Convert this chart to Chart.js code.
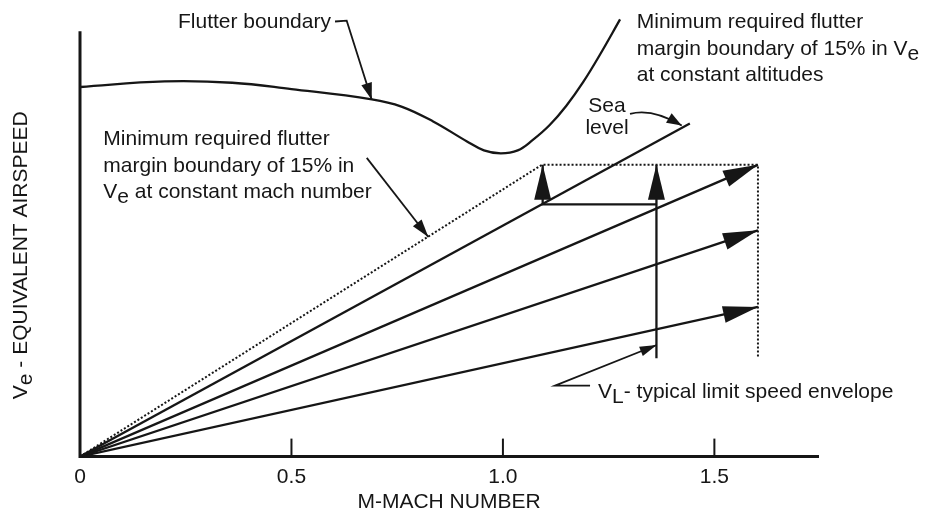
<!DOCTYPE html>
<html>
<head>
<meta charset="utf-8">
<script src="https://cdn.jsdelivr.net/npm/chart.js@4.4.0/dist/chart.umd.min.js"></script>
<style>
  html, body { margin: 0; padding: 0; background: #fff; }
  #wrap { width: 926px; height: 514px; }
</style>
</head>
<body>
<div id="wrap"><canvas id="chart"></canvas></div>
<script>
// Data (Mach number on x, equivalent airspeed in arbitrary units on y)

const xTickValues = [0, 0.5, 1.0, 1.5];
const xTickLabels = ["0", "0.5", "1.0", "1.5"];

const flutterMach = [0, 0.2, 0.36, 0.5, 0.69, 0.76, 0.835, 0.915, 0.955, 0.995, 1.035, 1.07, 1.11, 1.15, 1.19, 1.23, 1.277];
const flutterVe = [86.9, 88.2, 87.9, 86.4, 84.0, 82.3, 78.8, 74.1, 72.0, 71.3, 72.0, 74.4, 77.9, 82.5, 88.1, 94.6, 102.8];

const marginMach = [0, 1.092, 1.603, 1.603];
const marginVe = [0, 68.6, 68.6, 23.1];

const seaLevelMach = [0, 1.442];
const seaLevelVe = [0, 78.3];

const altitudeEndMach = [1.603, 1.603, 1.603];
const altitudeEndVe = [68.6, 53.2, 35.2];

const limitMach = [1.363, 1.363];
const limitVe = [23.1, 68.6];

const stepMach = [1.363, 1.094, 1.094];
const stepVe = [59.3, 59.3, 68.6];

// Styles

const ink = "#161616";
const fontFamily = "'Liberation Sans', Arial, sans-serif";
const noteFont = "21px " + fontFamily;
const yAxisTop = 100;

Chart.defaults.font.family = fontFamily;
Chart.defaults.color = ink;

// Annotations, placed in chart units

const notes = [
    { mach: 0.2317, ve: 100.8, lines: ["Flutter boundary"] },
    { mach: 0.0551, ve: 73.2, lead: 26.4, lines: ["Minimum required flutter", "margin boundary of 15% in", "V_{e} at constant mach number"] },
    { mach: 1.3164, ve: 100.7, lead: 26.6, lines: ["Minimum required flutter", "margin boundary of 15% in V_{e}", "at constant altitudes"] },
    { mach: 1.2462, ve: 81.0, lead: 22, align: "center", lines: ["Sea", "level"] },
    { mach: 1.2249, ve: 13.8, lines: ["V_{L}- typical limit speed envelope"] },
];

const leaders = [
    { path: [[0.603, 102.3], [0.6306, 102.5], [0.6898, 83.9]], head: [17, 5.5] },
    { path: [[0.678, 70.24], [0.8236, 51.62]], head: [18, 5.5] },
    { path: [[1.3005, 80.56], [1.3526, 81.96], [1.4228, 77.84]], curve: true, head: [15, 5.5] },
    { path: [[1.206, 16.69], [1.1232, 16.69], [1.3637, 26.24]], head: [17, 5] },
];

// Functions

function toPoints(xs, ys) {
    return xs.map((x, i) => ({ x: x, y: ys[i] }));
}

function lineSet(xs, ys, extra) {
    return Object.assign({
        data: toPoints(xs, ys),
        borderColor: ink,
        borderWidth: 2.3,
        pointRadius: 0,
        fill: false,
        tension: 0,
    }, extra);
}

function arrowHead(ctx, x0, y0, x1, y1, len, half) {
    const a = Math.atan2(y1 - y0, x1 - x0),
        c = Math.cos(a),
        s = Math.sin(a);

    ctx.beginPath();
    ctx.moveTo(x1, y1);
    ctx.lineTo(x1 - len * c + half * s, y1 - len * s - half * c);
    ctx.lineTo(x1 - len * c - half * s, y1 - len * s + half * c);
    ctx.closePath();
    ctx.fill();
}

// "V_{e}" -> runs with a dropped subscript
function splitRuns(text) {
    return text.split(/_\{(.*?)\}/).map((t, i) => ({ text: t, sub: i % 2 === 1 }));
}

function runsWidth(ctx, runs) {
    return runs.reduce((w, r) => w + ctx.measureText(r.text).width, 0);
}

function drawRuns(ctx, text, x, y) {
    let cx = x;
    splitRuns(text).forEach(r => {
        ctx.fillText(r.text, cx, y + (r.sub ? 5 : 0));
        cx += ctx.measureText(r.text).width;
    });
}

const annotate = {
    id: "annotate",
    afterDraw(chart) {
        const { ctx, chartArea, scales: { x, y } } = chart;
        const px = v => x.getPixelForValue(v),
            py = v => y.getPixelForValue(v);

        ctx.save();
        ctx.strokeStyle = ink;
        ctx.fillStyle = ink;

        // y axis line, shorter than the plot area
        ctx.lineWidth = 3;
        ctx.beginPath();
        ctx.moveTo(px(0), py(0) + 1.5);
        ctx.lineTo(px(0), py(yAxisTop));
        ctx.stroke();

        // inward tick marks
        ctx.lineWidth = 2;
        xTickValues.slice(1).forEach(v => {
            ctx.beginPath();
            ctx.moveTo(px(v), py(0));
            ctx.lineTo(px(v), py(0) - 18);
            ctx.stroke();
        });

        // arrowheads at the end of flagged datasets
        chart.data.datasets.forEach((ds, i) => {
            if (!ds.arrow) return;
            const pts = chart.getDatasetMeta(i).data,
                a = pts[pts.length - 2],
                b = pts[pts.length - 1];
            arrowHead(ctx, a.x, a.y, b.x, b.y, 35, 8.5);
        });

        // leader arrows
        ctx.lineWidth = 1.8;
        leaders.forEach(l => {
            const p = l.path.map(q => [px(q[0]), py(q[1])]);
            ctx.beginPath();
            ctx.moveTo(p[0][0], p[0][1]);
            if (l.curve) {
                ctx.quadraticCurveTo(p[1][0], p[1][1], p[2][0], p[2][1]);
            } else {
                p.slice(1).forEach(q => ctx.lineTo(q[0], q[1]));
            }
            ctx.stroke();
            const a = p[p.length - 2], b = p[p.length - 1];
            arrowHead(ctx, a[0], a[1], b[0], b[1], l.head[0], l.head[1]);
        });

        // text notes
        ctx.font = noteFont;
        ctx.textBaseline = "alphabetic";
        ctx.textAlign = "left";
        notes.forEach(n => {
            n.lines.forEach((line, k) => {
                let lx = px(n.mach);
                if (n.align === "center") lx -= runsWidth(ctx, splitRuns(line)) / 2;
                drawRuns(ctx, line, lx, py(n.ve) + k * (n.lead || 0));
            });
        });

        // y axis title
        ctx.translate(chartArea.left - 53, py(13.5));
        ctx.rotate(-Math.PI / 2);
        drawRuns(ctx, "V_{e} - EQUIVALENT AIRSPEED", 0, 0);

        ctx.restore();
    }
};

// Chart

const chartCtx = document.getElementById("chart");

let flutterChart = new Chart(chartCtx, {
    type: "line",
    data: {
        datasets: [
            lineSet(flutterMach, flutterVe, { tension: 0.4 }),
            lineSet(marginMach, marginVe, { borderDash: [2, 2], borderWidth: 2 }),
            lineSet(seaLevelMach, seaLevelVe),
            ...altitudeEndMach.map((m, i) => lineSet([0, m], [0, altitudeEndVe[i]], { arrow: true })),
            lineSet(limitMach, limitVe, { arrow: true }),
            lineSet(stepMach, stepVe, { arrow: true }),
        ],
    },
    options: {
        responsive: true,
        maintainAspectRatio: false,
        animation: false,
        layout: {
            padding: { top: 10, right: 108, bottom: 0, left: 0 },
        },
        plugins: {
            legend: { display: false },
            tooltip: { enabled: false },
        },
        scales: {
            x: {
                type: "linear",
                min: 0,
                max: 1.745,
                afterBuildTicks: scale => {
                    scale.ticks = xTickValues.map(v => ({ value: v }));
                },
                grid: { display: false, drawTicks: false },
                border: { color: ink, width: 3 },
                ticks: {
                    padding: 8,
                    color: ink,
                    font: { size: 21 },
                    maxRotation: 0,
                    callback: (value, index) => xTickLabels[index],
                },
                title: {
                    display: true,
                    text: "M-MACH NUMBER",
                    color: ink,
                    font: { size: 21 },
                    padding: { top: -8, bottom: -1 },
                },
            },
            y: {
                type: "linear",
                min: 0,
                max: 105,
                afterFit: scale => {
                    scale.width = 80;
                },
                grid: { display: false, drawTicks: false },
                border: { display: false },
                ticks: { display: false },
            },
        },
    },
    plugins: [annotate],
});
</script>
</body>
</html>
